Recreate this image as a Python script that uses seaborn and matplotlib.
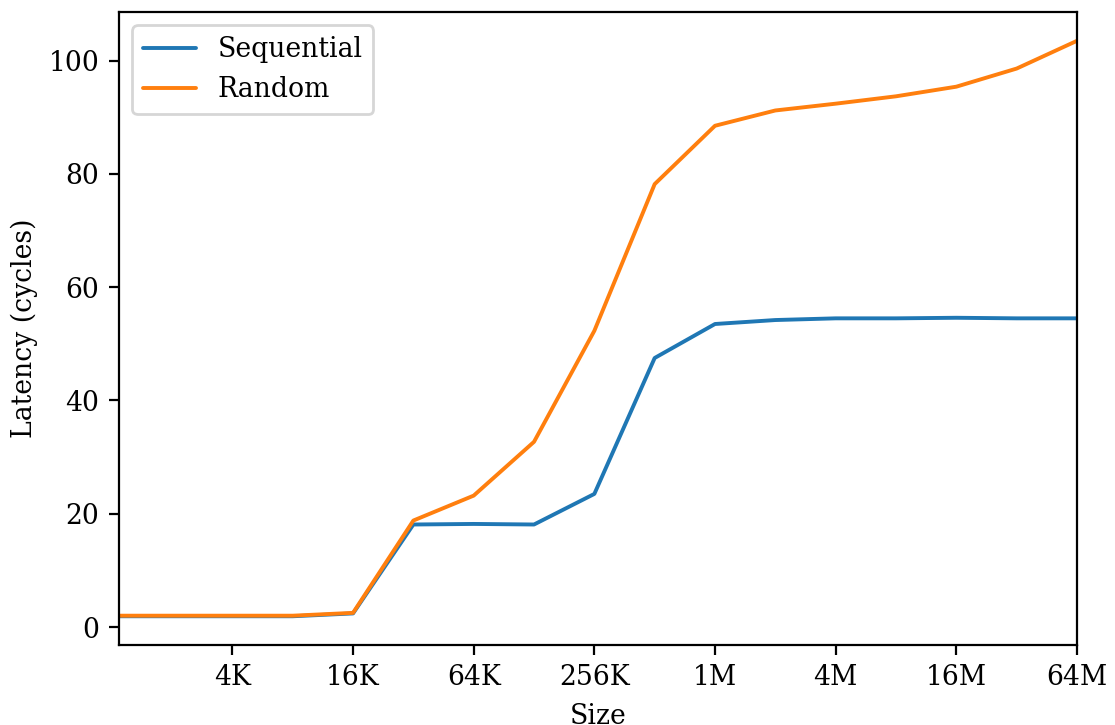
import numpy as np
import pandas as pd
import matplotlib
matplotlib.use("Agg")
import matplotlib.pyplot as plt
import seaborn as sns

sizes = [2**k for k in range(10, 27)]  # 1K .. 64M
sequential = [1.9, 1.9, 1.9, 1.9, 2.4, 18.1, 18.2, 18.1, 23.5, 47.5, 53.5, 54.2, 54.5, 54.5, 54.6, 54.5, 54.5]
random_ = [2.0, 2.0, 2.0, 2.0, 2.5, 18.8, 23.2, 32.7, 52.3, 78.2, 88.5, 91.2, 92.4, 93.7, 95.4, 98.6, 103.5]
tick_values = [2**12, 2**14, 2**16, 2**18, 2**20, 2**22, 2**24, 2**26]
tick_labels = ["4K", "16K", "64K", "256K", "1M", "4M", "16M", "64M"]

sns.set_style("ticks", rc={
    "axes.edgecolor": "black", "text.color": "black", "axes.labelcolor": "black",
    "xtick.color": "black", "ytick.color": "black",
})
plt.rcParams["font.family"] = ["DejaVu Serif"]
plt.rcParams["font.size"] = 9.6
plt.rcParams["axes.linewidth"] = 0.8

df = pd.DataFrame({
    "Size": sizes * 2,
    "Latency (cycles)": sequential + random_,
    "Pattern": ["Sequential"] * len(sizes) + ["Random"] * len(sizes),
})

fig, ax = plt.subplots(figsize=(5.575, 3.625), dpi=200)
fig.subplots_adjust(left=0.1067, right=0.9659, top=0.9834, bottom=0.1103)
sns.lineplot(data=df, x="Size", y="Latency (cycles)", hue="Pattern",
             palette=["#1f77b4", "#ff7f0e"], linewidth=1.4, ax=ax)
ax.set_xscale("log", base=2)
ax.set_xlim(1113, 2**26)
ax.set_xticks(tick_values)
ax.set_xticklabels(tick_labels)
ax.minorticks_off()
ax.set_xlabel("Size")
ax.set_ylabel("Latency (cycles)")
leg = ax.legend(loc="upper left")
leg.set_title(None)
for s in ax.spines.values():
    s.set_visible(True)
fig.savefig("out.png", dpi=200)
